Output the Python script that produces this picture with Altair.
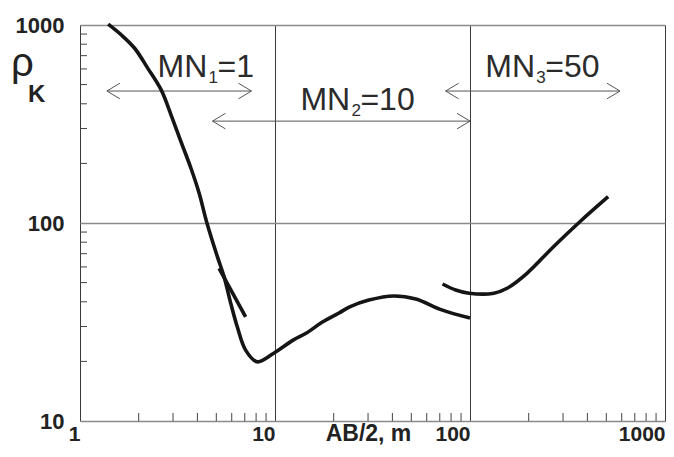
import altair as alt
import pandas as pd

# ---- data ----
seg1_x = [1.394, 1.631, 1.906, 2.228, 2.608, 2.932, 3.297, 3.707, 4.087, 4.473, 5.064, 5.479, 5.927,
          6.404, 7.067, 8.096, 9.85, 12.45, 14.5, 17.5, 21.3, 24.0, 30.3, 40.7, 52.7, 71.6, 100]
seg1_y = [1010, 890, 763, 604, 470, 351, 257, 189, 141, 100.3, 67.6, 53.6, 39.4,
          29.9, 22.8, 19.9, 22.0, 25.7, 27.8, 31.6, 35.1, 37.6, 40.8, 42.8, 41.3, 36.4, 33.1]
seg2_x = [5.167, 7.067]
seg2_y = [59.0, 33.6]
seg3_x = [72.3, 84.4, 98.9, 132.7, 155, 196, 268, 366, 511]
seg3_y = [49.2, 45.9, 44.2, 44.2, 46.8, 55.7, 75.9, 101.5, 135.8]

arrow_x1 = [1.374, 4.78, 75.0]
arrow_x2 = [7.57, 100, 588]
arrow_y = [464, 327, 464]

label_x = [2.50, 13.5, 119.8]
label_y = [546, 372, 546]
label_main = ["MN", "MN", "MN"]
label_sub = ["1", "2", "3"]
label_rest = ["=1", "=10", "=50"]

x_labels = [1, 10, 100, 1000]
y_labels = [10, 100, 1000]
x_minor = [2, 3, 4, 5, 6, 7, 8, 9, 20, 30, 40, 50, 60, 70, 80, 90, 200, 300, 400, 500, 600, 700, 800, 900]
y_minor = [20, 30, 40, 50, 60, 70, 80, 90, 200, 300, 400, 500, 600, 700, 800, 900]

W, H = 585, 396
FONT = "Liberation Sans"

xs = alt.Scale(type="log", domain=[1, 1000], nice=False)
ys = alt.Scale(type="log", domain=[10, 1000], nice=False)

curves = pd.DataFrame({
    "x": seg1_x + seg2_x + seg3_x,
    "y": seg1_y + seg2_y + seg3_y,
    "seg": ["a"] * len(seg1_x) + ["b"] * len(seg2_x) + ["c"] * len(seg3_x),
    "o": list(range(len(seg1_x))) + list(range(len(seg2_x))) + list(range(len(seg3_x))),
})

x_axis = alt.Axis(values=x_labels, format="d", grid=True, gridColor="#3a3a3a", gridWidth=1,
                  ticks=False, tickSize=0, domain=False, labelFont=FONT, labelFontWeight="bold",
                  labelFontSize=21, labelColor="#222", labelAlign="right", labelBaseline="alphabetic",
                  labelPadding=19, labelFlush=False, labelOverlap=False,
                  title="AB/2, m", titleFont=FONT, titleFontWeight="bold", titleFontSize=23,
                  titleColor="#222", titleX=288, titleY=19, titleBaseline="alphabetic", titleAlign="center")
y_axis = alt.Axis(values=y_labels, format="d", grid=True, gridColor="#8a8a8a", gridWidth=1.6,
                  ticks=False, tickSize=0, domain=False, labelFont=FONT, labelFontWeight="bold",
                  labelFontSize=22, labelColor="#222", labelPadding=16, labelBaseline="middle",
                  labelFlush=False, labelOverlap=False, title=None)

lines = alt.Chart(curves).mark_line(color="#151515", strokeWidth=3.6, interpolate="catmull-rom").encode(
    x=alt.X("x:Q", scale=xs, axis=x_axis),
    y=alt.Y("y:Q", scale=ys, axis=y_axis),
    detail="seg:N",
    order="o:Q",
)

xm = alt.Chart(pd.DataFrame({"v": x_minor})).mark_rule(color="#444", strokeWidth=1).encode(
    x=alt.X("v:Q", scale=xs), y=alt.value(H), y2=alt.value(H - 8))
ym = alt.Chart(pd.DataFrame({"v": y_minor})).mark_rule(color="#444", strokeWidth=1).encode(
    y=alt.Y("v:Q", scale=ys), x=alt.value(0), x2=alt.value(7))

arrows = pd.DataFrame({"x1": arrow_x1, "x2": arrow_x2, "y": arrow_y})
shaft = alt.Chart(arrows).mark_rule(color="#555", strokeWidth=1).encode(
    x=alt.X("x1:Q", scale=xs), x2="x2:Q", y=alt.Y("y:Q", scale=ys))
head_r = alt.Chart(arrows).mark_point(shape="M-1,-0.6L0,0L-1,0.6", filled=False, size=676,
                                      color="#555", strokeWidth=1, opacity=1).encode(
    x=alt.X("x2:Q", scale=xs), y=alt.Y("y:Q", scale=ys))
head_l = alt.Chart(arrows).mark_point(shape="M1,-0.6L0,0L1,0.6", filled=False, size=676,
                                      color="#555", strokeWidth=1, opacity=1).encode(
    x=alt.X("x1:Q", scale=xs), y=alt.Y("y:Q", scale=ys))

labels = pd.DataFrame({"x": label_x, "y": label_y, "m": label_main, "s": label_sub, "r": label_rest})
t_main = alt.Chart(labels).mark_text(font=FONT, fontSize=32, color="#2b2b2b", align="left",
                                     baseline="alphabetic").encode(
    x=alt.X("x:Q", scale=xs), y=alt.Y("y:Q", scale=ys), text="m:N")
t_sub = alt.Chart(labels).mark_text(font=FONT, fontSize=17, color="#2b2b2b", align="left",
                                    baseline="alphabetic", dx=51, dy=6).encode(
    x=alt.X("x:Q", scale=xs), y=alt.Y("y:Q", scale=ys), text="s:N")
t_rest = alt.Chart(labels).mark_text(font=FONT, fontSize=32, color="#2b2b2b", align="left",
                                     baseline="alphabetic", dx=60).encode(
    x=alt.X("x:Q", scale=xs), y=alt.Y("y:Q", scale=ys), text="r:N")

rho = alt.Chart(pd.DataFrame({"t": ["ρ"]})).mark_text(font=FONT, fontSize=40, color="#222",
                                                     align="left", baseline="alphabetic").encode(
    text="t:N", x=alt.value(-69), y=alt.value(51))
kk = alt.Chart(pd.DataFrame({"t": ["K"]})).mark_text(font=FONT, fontSize=24, fontWeight="bold",
                                                    color="#222", align="left",
                                                    baseline="alphabetic").encode(
    text="t:N", x=alt.value(-52), y=alt.value(77))

chart = alt.layer(xm, ym, shaft, head_r, head_l, lines, t_main, t_sub, t_rest, rho, kk).properties(
    width=W, height=H,
    autosize=alt.AutoSizeParams(type="none"),
    padding={"left": 72, "top": 17, "right": 1, "bottom": 24},
).configure_view(stroke="#333", strokeWidth=1.2).configure(background="white")

chart.save("out.html", embed_options={"renderer": "svg", "actions": False})
